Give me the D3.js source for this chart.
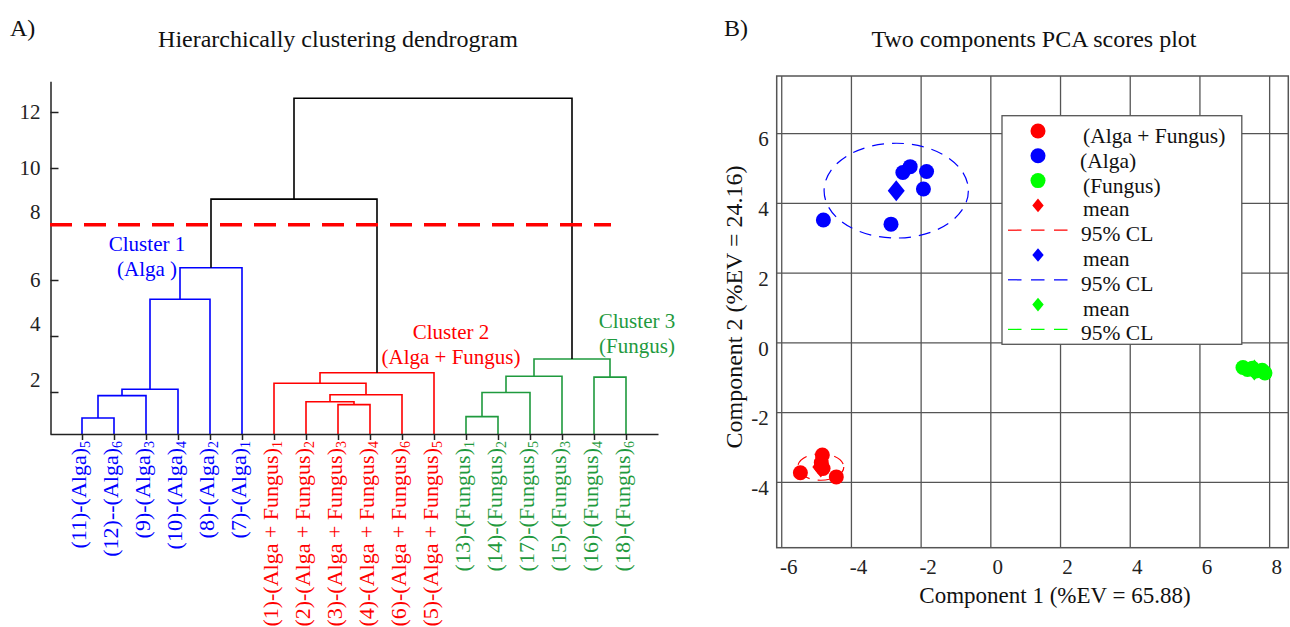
<!DOCTYPE html>
<html><head><meta charset="utf-8">
<script src="https://cdn.jsdelivr.net/npm/d3@7"></script>
<style>
body{margin:0;background:#fff}
text{font-family:"Liberation Serif","Times New Roman",serif}
</style>
</head><body>
<svg id="chart" width="1290" height="627"></svg>
<script>
// ---------- Dendrogram data ----------
const leafNames = ["(11)-(Alga)","(12)--(Alga)","(9)-(Alga)","(10)-(Alga)","(8)-(Alga)","(7)-(Alga)",
  "(1)-(Alga + Fungus)","(2)-(Alga + Fungus)","(3)-(Alga + Fungus)","(4)-(Alga + Fungus)","(6)-(Alga + Fungus)","(5)-(Alga + Fungus)",
  "(13)-(Fungus)","(14)-(Fungus)","(17)-(Fungus)","(15)-(Fungus)","(16)-(Fungus)","(18)-(Fungus)"];
const leafSubs = ["5","6","3","4","2","1","1","2","3","4","6","5","1","2","5","3","4","6"];
const leafCluster = ["c1","c1","c1","c1","c1","c1","c2","c2","c2","c2","c2","c2","c3","c3","c3","c3","c3","c3"];
// linkage rows: node index = 18 + row
const mergeLeft   = [0,18,19,20,21, 8,7,24,6,26, 12,28,29,16,30, 22,33];
const mergeRight  = [1,2,3,4,5, 9,23,10,25,11, 13,14,15,17,31, 27,32];
const mergeHeight = [1.07,1.87,2.10,5.31,6.44, 1.55,1.65,1.90,2.31,2.69, 1.12,1.98,2.56,2.53,3.18, 8.89,12.49];
const mergeCluster= ["c1","c1","c1","c1","c1","c2","c2","c2","c2","c2","c3","c3","c3","c3","c3","root","root"];
const dendroTicks = [2,4,6,8,10,12];
const cutHeight = 7.97;
const clusterLabels = [["Cluster 1","(Alga )"],["Cluster 2","(Alga + Fungus)"],["Cluster 3","(Fungus)"]];

// ---------- PCA data ----------
const groups = ["(Alga + Fungus)","(Alga)","(Fungus)"];
const mixX = [-5.45,-4.82,-4.85,-4.80,-4.42,-4.85];
const mixY = [-3.74,-3.23,-3.45,-3.62,-3.86,-3.55];
const algaX = [-4.79,-2.85,-2.51,-2.30,-1.83,-1.92];
const algaY = [3.51,3.39,4.87,5.04,4.90,4.40];
const fungX = [7.25,7.38,7.52,7.62,7.80,7.88];
const fungY = [-0.72,-0.78,-0.74,-0.82,-0.80,-0.88];
const ellipseRx = [0.66,2.07,0.20];
const ellipseRy = [0.38,1.36,0.12];
const pcaXTicks = [-6,-4,-2,0,2,4,6,8];
const pcaYTicks = [-4,-2,0,2,4,6];

const dColor = {c1:"#0000ff", c2:"#ff0000", c3:"#1f9a3e", root:"#000000"};
const pColor = ["#ff0000","#0000ff","#00ff00"];
const FONT = "Liberation Serif";

const svg = d3.select("#chart");

// ================= Panel A: dendrogram =================
const x = d3.scalePoint().domain(d3.range(leafNames.length)).range([50,658]).padding(1);
const y = d3.scaleLinear().domain([0.5,13.1]).range([434,81.2]);

const nodeX = leafNames.map((_,i)=>x(i));
const nodeH = leafNames.map(()=>y.domain()[0]);
mergeLeft.forEach((l,i)=>{
  const r = mergeRight[i];
  nodeX.push((nodeX[l]+nodeX[r])/2);
  nodeH.push(mergeHeight[i]);
});

const gD = svg.append("g");
mergeLeft.forEach((l,i)=>{
  const r = mergeRight[i], h = mergeHeight[i];
  const path = d3.path();
  path.moveTo(nodeX[l], y(nodeH[l]));
  path.lineTo(nodeX[l], y(h));
  path.lineTo(nodeX[r], y(h));
  path.lineTo(nodeX[r], y(nodeH[r]));
  gD.append("path").attr("d", path.toString())
    .attr("fill","none").attr("stroke", dColor[mergeCluster[i]]).attr("stroke-width",1.6);
});

// y axis
const yAxis = d3.axisLeft(y).tickValues(dendroTicks).tickSizeInner(-8).tickSizeOuter(0).tickPadding(10)
  .tickFormat(d => String(d));
const gy = svg.append("g").attr("transform","translate(50.5,0)").call(yAxis)
  .attr("font-family",FONT);
gy.select(".domain").attr("stroke","#222").attr("stroke-width",1.5);
gy.selectAll(".tick line").attr("stroke","#222").attr("stroke-width",1.5);
gy.selectAll(".tick text").attr("font-size",21).attr("fill","#222")
  .attr("transform", d => [2,4,8].includes(d) ? "translate(0,-12)" : null);

// x axis baseline
const xAxis = d3.axisBottom(x).tickSizeInner(6).tickSizeOuter(0).tickFormat("");
const gx = svg.append("g").attr("transform",`translate(0,${y.range()[0]})`).call(xAxis);
gx.select(".domain").attr("stroke","#222").attr("stroke-width",1.5);
gx.selectAll(".tick line").attr("stroke","#222").attr("stroke-width",1.5);

// leaf labels
leafNames.forEach((name,i)=>{
  const t = svg.append("text")
    .attr("transform",`translate(${x(i)+4},441) rotate(-90)`)
    .attr("text-anchor","end").attr("font-size",22)
    .attr("fill", dColor[leafCluster[i]]);
  t.append("tspan").text(name);
  t.append("tspan").attr("font-size",14).attr("dy",4).text(leafSubs[i]);
});

// cut line
svg.append("line").attr("x1",50).attr("x2",611)
  .attr("y1",y(cutHeight)).attr("y2",y(cutHeight))
  .attr("stroke","#ff0000").attr("stroke-width",3.5).attr("stroke-dasharray","22,12");

// cluster labels
const clusterPos = [[147,251],[451,339],[637,328]];
clusterLabels.forEach((lab,i)=>{
  const c = ["c1","c2","c3"][i];
  lab.forEach((s,j)=>{
    svg.append("text").attr("x",clusterPos[i][0]).attr("y",clusterPos[i][1]+25*j)
      .attr("text-anchor","middle").attr("font-size",21).attr("fill",dColor[c]).text(s);
  });
});

svg.append("text").attr("x",10).attr("y",36).attr("font-size",24).attr("fill","#111").text("A)");
svg.append("text").attr("x",338).attr("y",47).attr("text-anchor","middle").attr("font-size",24).attr("fill","#111")
  .text("Hierarchically clustering dendrogram");

// ================= Panel B: PCA =================
const px = d3.scaleLinear().domain([-6.13,8.55]).range([776.7,1288.3]);
const py = d3.scaleLinear().domain([-5.89,7.64]).range([547.7,76]);
const pW = px.range()[1]-px.range()[0], pH = py.range()[0]-py.range()[1];

const gxp = svg.append("g").attr("transform",`translate(0,${py.range()[0]})`)
  .call(d3.axisBottom(px).tickValues(pcaXTicks).tickSizeInner(-pH).tickSizeOuter(0).tickPadding(11)
    .tickFormat(d => String(d)))
  .attr("font-family",FONT);
gxp.select(".domain").remove();
gxp.selectAll(".tick line").attr("stroke","#555").attr("stroke-width",1.3);
gxp.selectAll(".tick text").attr("font-size",21).attr("fill","#222").attr("dx",7);

const gyp = svg.append("g").attr("transform",`translate(${px.range()[0]},0)`)
  .call(d3.axisLeft(py).tickValues(pcaYTicks).tickSizeInner(-pW).tickSizeOuter(0).tickPadding(8)
    .tickFormat(d => String(d)))
  .attr("font-family",FONT);
gyp.select(".domain").remove();
gyp.selectAll(".tick line").attr("stroke","#555").attr("stroke-width",1.3);
gyp.selectAll(".tick text").attr("font-size",21).attr("fill","#222").attr("transform","translate(0,6)");

const series = [[mixX,mixY],[algaX,algaY],[fungX,fungY]];
const gP = svg.append("g");
series.forEach((s,i)=>{
  const mx = d3.mean(s[0]), my = d3.mean(s[1]);
  gP.append("ellipse").attr("cx",px(mx)).attr("cy",py(my))
    .attr("rx", px(mx+ellipseRx[i])-px(mx)).attr("ry", py(my)-py(my+ellipseRy[i]))
    .attr("fill","none").attr("stroke",pColor[i]).attr("stroke-width",1.2).attr("stroke-dasharray","12,8");
});
series.forEach((s,i)=>{
  s[0].forEach((v,k)=>{
    gP.append("circle").attr("cx",px(v)).attr("cy",py(s[1][k])).attr("r",7.5).attr("fill",pColor[i]);
  });
});
const diamond = (cx,cy,hw,hh)=>`M${cx},${cy-hh}L${cx+hw},${cy}L${cx},${cy+hh}L${cx-hw},${cy}Z`;
series.forEach((s,i)=>{
  const mx = d3.mean(s[0]), my = d3.mean(s[1]);
  gP.append("path").attr("d",diamond(px(mx),py(my),8.5,10.5)).attr("fill",pColor[i]);
});

svg.append("rect").attr("x",px.range()[0]).attr("y",py.range()[1]).attr("width",pW).attr("height",pH)
  .attr("fill","none").attr("stroke","#555").attr("stroke-width",1.5);

// legend
const lg = svg.append("g");
lg.append("rect").attr("x",1002).attr("y",115.7).attr("width",239.8).attr("height",228.6)
  .attr("fill","#fff").attr("stroke","#555").attr("stroke-width",1.3);
const rowY = i => 131 + 24.8*i;
const textX = [1083,1080,1083];
groups.forEach((g,i)=>{
  lg.append("circle").attr("cx",1038).attr("cy",rowY(i)).attr("r",7.5).attr("fill",pColor[i]);
  lg.append("text").attr("x",textX[i]).attr("y",rowY(i)+12).attr("font-size",21.5).attr("fill","#111").text(g);
});
[0,1,2].forEach(i=>{
  const r1 = 3+2*i, r2 = 4+2*i;
  lg.append("path").attr("d",diamond(1038,rowY(r1),5.7,6.8)).attr("fill",pColor[i]);
  lg.append("text").attr("x",1083).attr("y",rowY(r1)+11).attr("font-size",21.5).attr("fill","#111").text("mean");
  lg.append("line").attr("x1",1008).attr("x2",1068).attr("y1",rowY(r2)).attr("y2",rowY(r2))
    .attr("stroke",pColor[i]).attr("stroke-width",1.2).attr("stroke-dasharray","13.5,9.5");
  lg.append("text").attr("x",1081).attr("y",rowY(r2)+11).attr("font-size",21.5).attr("fill","#111").text("95% CL");
});

svg.append("text").attr("x",1055).attr("y",603).attr("text-anchor","middle").attr("font-size",23).attr("fill","#111")
  .text("Component 1 (%EV = 65.88)");
svg.append("text").attr("transform","translate(742,307) rotate(-90)").attr("text-anchor","middle")
  .attr("font-size",24).attr("fill","#111").text("Component 2 (%EV = 24.16)");

svg.append("text").attr("x",724).attr("y",36).attr("font-size",24).attr("fill","#111").text("B)");
svg.append("text").attr("x",1034).attr("y",47).attr("text-anchor","middle").attr("font-size",24).attr("fill","#111")
  .text("Two components PCA scores plot");
</script>
</body></html>
